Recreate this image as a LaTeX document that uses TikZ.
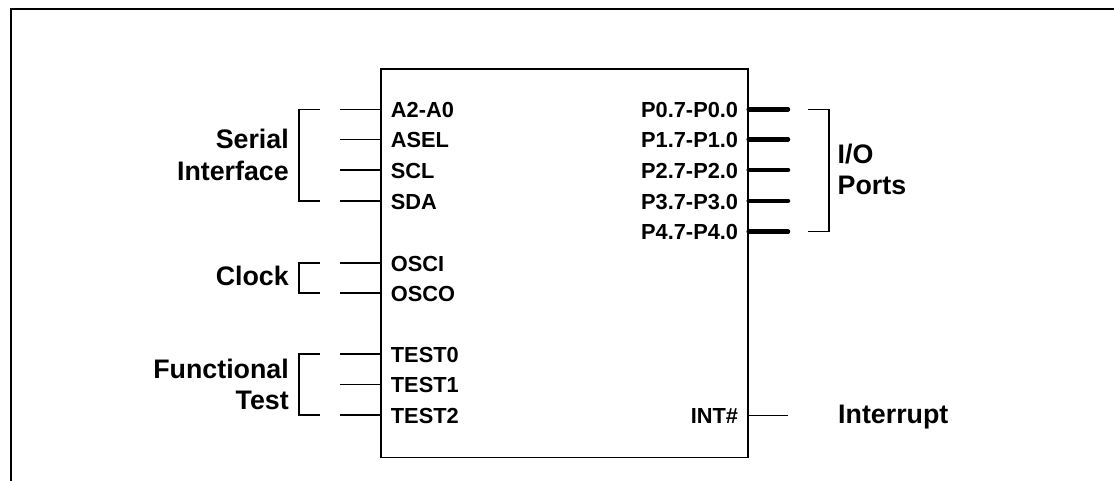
\documentclass[tikz,border=0pt]{standalone}
\usepackage{fontspec}
\setmainfont{Liberation Sans}
\begin{document}
\begin{tikzpicture}[x=1pt,y=-1pt,
  frameline/.style={line width=2.3pt},
  chipbox/.style={draw,line width=1.4pt,inner sep=0pt,minimum width=367pt,minimum height=388.4pt,anchor=north west},
  pinline/.style={line width=1.2pt},
  busline/.style={line width=4.5pt,line cap=round},
  brace/.style={line width=1.2pt},
  pinlabel/.style={inner sep=0pt,font=\bfseries\fontsize{21.8}{26}\selectfont},
  grouplabel/.style={inner sep=0pt,font=\bfseries\fontsize{26.8}{31.8}\selectfont}]
\useasboundingbox (0,0) rectangle (1114,481);
% outer frame (partly visible)
\draw[frameline] (1114,8.7) -- (11.2,8.7) -- (11.2,481);
% chip
\node[chipbox] (chip) at (380.3,68.3) {};
% left pins
\coordinate (pA) at (340,109.3);
\coordinate (pASEL) at (340,139.3);
\coordinate (pSCL) at (340,170);
\coordinate (pSDA) at (340,201);
\coordinate (pOSCI) at (340,263);
\coordinate (pOSCO) at (340,293);
\coordinate (pT0) at (340,354);
\coordinate (pT1) at (340,384.3);
\coordinate (pT2) at (340,415);
\foreach \p in {pA,pASEL,pSCL,pSDA,pOSCI,pOSCO,pT0,pT1,pT2}
  \draw[pinline] (\p) -- (\p -| chip.west);
\node[pinlabel,anchor=base west] (lA) at (390.7,117.6) {A2-A0};
\node[pinlabel,anchor=base west] (lASEL) at (390.7,147.6) {ASEL};
\node[pinlabel,anchor=base west] (lSCL) at (390.7,178.3) {SCL};
\node[pinlabel,anchor=base west] (lSDA) at (390.7,209.3) {SDA};
\node[pinlabel,anchor=base west] (lOSCI) at (390.7,271.3) {OSCI};
\node[pinlabel,anchor=base west] (lOSCO) at (390.7,301.3) {OSCO};
\node[pinlabel,anchor=base west] (lT0) at (390.7,362.3) {TEST0};
\node[pinlabel,anchor=base west] (lT1) at (390.7,392.6) {TEST1};
\node[pinlabel,anchor=base west] (lT2) at (390.7,423.3) {TEST2};
% right ports
\coordinate (q0) at (788,109.3);
\coordinate (q1) at (788,139.3);
\coordinate (q2) at (788,170);
\coordinate (q3) at (788,201);
\coordinate (q4) at (788,231.7);
\foreach \q in {q0,q1,q2,q3,q4}
  \draw[busline] (\q -| chip.east) -- (\q);
\node[pinlabel,anchor=base east] (lP0) at (738.3,117.6) {P0.7-P0.0};
\node[pinlabel,anchor=base east] (lP1) at (738.3,147.6) {P1.7-P1.0};
\node[pinlabel,anchor=base east] (lP2) at (738.3,178.3) {P2.7-P2.0};
\node[pinlabel,anchor=base east] (lP3) at (738.3,209.3) {P3.7-P3.0};
\node[pinlabel,anchor=base east] (lP4) at (738.3,240) {P4.7-P4.0};
% interrupt
\coordinate (qint) at (788,415.5);
\draw[pinline] (qint -| chip.east) -- (qint);
\node[pinlabel,anchor=base east] (lINT) at (738.3,423.8) {INT\#};
% brackets
\draw[brace] (320,109.3) -- (299,109.3) -- (299,201) -- (320,201);
\draw[brace] (320,263) -- (299,263) -- (299,293) -- (320,293);
\draw[brace] (320,354) -- (299,354) -- (299,415) -- (320,415);
\draw[brace] (808,109.3) -- (829,109.3) -- (829,231.7) -- (808,231.7);
% group labels
\node[grouplabel,align=right,anchor=east] (gSerial) at (289,155) {Serial\\Interface};
\node[grouplabel,anchor=east] (gClock) at (289,276) {Clock};
\node[grouplabel,align=right,anchor=east] (gTest) at (289,384.4) {Functional\\Test};
\node[grouplabel,align=left,anchor=west] (gIO) at (837.5,169.5) {I/O\\Ports};
\node[grouplabel,anchor=base west] (gInt) at (838,423.3) {Interrupt};
\end{tikzpicture}
\end{document}
